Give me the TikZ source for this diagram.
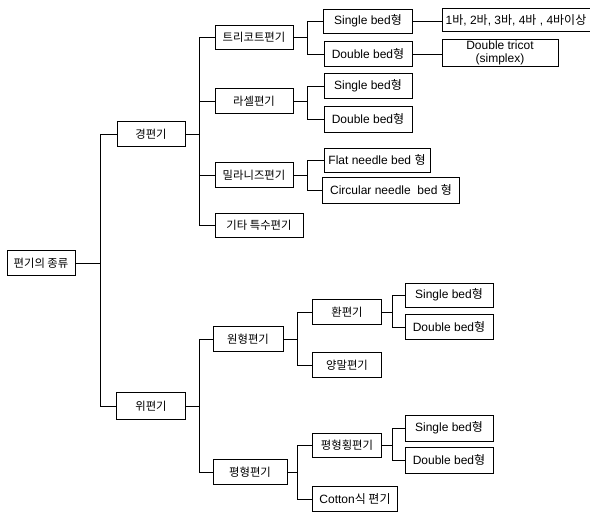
\documentclass[tikz,border=0pt]{standalone}
\usepackage{fontspec}
\setmainfont{Liberation Sans}
\newfontfamily\kr{Noto Sans CJK KR}
\tikzset{
    box/.style={draw, line width=0.7pt, inner sep=1pt, align=center,
        font=\fontsize{9}{10}\selectfont},
    kbox/.style={box, font=\fontsize{8.5}{10}\selectfont\kr},
    sz/.style 2 args={minimum width=#1*0.75pt, minimum height=#2*0.75pt},
    link/.style={line width=0.7pt},
}
\begin{document}
\begin{tikzpicture}[x=0.75pt, y=-0.75pt]
    \useasboundingbox (0,0) rectangle (590,512);
    % branch points
    \coordinate (ja) at (100,0);
    \coordinate (jb) at (199,0);
    \coordinate (jc) at (307,0);
    \coordinate (jd) at (297,0);
    \coordinate (je) at (392,0);
    % root and first level
    \node[kbox, sz={68}{25}] (root) at (41,263) {편기의 종류};
    \node[kbox, sz={68}{25}] (kyung) at (151,134) {경편기};
    \node[kbox, sz={69}{27}] (wi) at (151,406) {위편기};
    % warp knitting
    \node[kbox, sz={78}{24}] (tri) at (254,37) {트리코트편기};
    \node[kbox, sz={78}{25}] (ras) at (254,101) {라셀편기};
    \node[kbox, sz={78}{25}] (mil) at (254,175) {밀라니즈편기};
    \node[kbox, sz={88}{24}] (etc) at (259,225) {기타 특수편기};
    \node[box, sz={89}{24}] (triS) at (368,21) {Single bed{\kr 형}};
    \node[box, sz={88}{25}] (triD) at (368,54) {Double bed{\kr 형}};
    \node[box, sz={148}{23}] (bars) at (516,20) {1{\kr 바}, 2{\kr 바}, 3{\kr 바}, 4{\kr 바} , 4{\kr 바이상}};
    \node[box, sz={116}{27}, inner sep=0pt, font=\fontsize{9}{9.5}\selectfont] (simp) at (500,53) {Double tricot\\(simplex)};
    \node[box, sz={88}{25}] (rasS) at (368,86) {Single bed{\kr 형}};
    \node[box, sz={88}{26}] (rasD) at (368,119) {Double bed{\kr 형}};
    \node[box, sz={106}{24}] (milF) at (377,160) {Flat needle bed {\kr 형}};
    \node[box, sz={137}{26}] (milC) at (391,190) {Circular needle\ \ bed {\kr 형}};
    % weft knitting
    \node[kbox, sz={70}{25}] (won) at (248,339) {원형편기};
    \node[kbox, sz={74}{25}] (pyeong) at (250,472) {평형편기};
    \node[kbox, sz={69}{25}] (hwan) at (347,312) {환편기};
    \node[kbox, sz={69}{25}] (sock) at (347,365) {양말편기};
    \node[kbox, sz={69}{24}] (flat) at (347,445) {평형횡편기};
    \node[box, sz={85}{25}] (cot) at (355,499) {Cotton{\kr 식 편기}};
    \node[box, sz={88}{24}] (hwanS) at (449,295) {Single bed{\kr 형}};
    \node[box, sz={88}{25}] (hwanD) at (449,327) {Double bed{\kr 형}};
    \node[box, sz={88}{26}] (flatS) at (449,428) {Single bed{\kr 형}};
    \node[box, sz={88}{26}] (flatD) at (449,460) {Double bed{\kr 형}};
    % connectors
    \foreach \c in {kyung,wi}
        \draw[link] (root.east) -- (root.east -| ja) |- (\c.west);
    \foreach \c in {tri,ras,mil,etc}
        \draw[link] (kyung.east) -- (kyung.east -| jb) |- (\c.west);
    \foreach \c in {won,pyeong}
        \draw[link] (wi.east) -- (wi.east -| jb) |- (\c.west);
    \foreach \p/\c in {tri/triS,tri/triD,ras/rasS,ras/rasD,mil/milF,mil/milC}
        \draw[link] (\p.east) -- (\p.east -| jc) |- (\c.west);
    \foreach \p/\c in {won/hwan,won/sock,pyeong/flat,pyeong/cot}
        \draw[link] (\p.east) -- (\p.east -| jd) |- (\c.west);
    \foreach \p/\c in {hwan/hwanS,hwan/hwanD,flat/flatS,flat/flatD}
        \draw[link] (\p.east) -- (\p.east -| je) |- (\c.west);
    \draw[link] (triS.east) -- (triS.east -| bars.west);
    \draw[link] (triD.east) -- (triD.east -| simp.west);
\end{tikzpicture}
\end{document}
